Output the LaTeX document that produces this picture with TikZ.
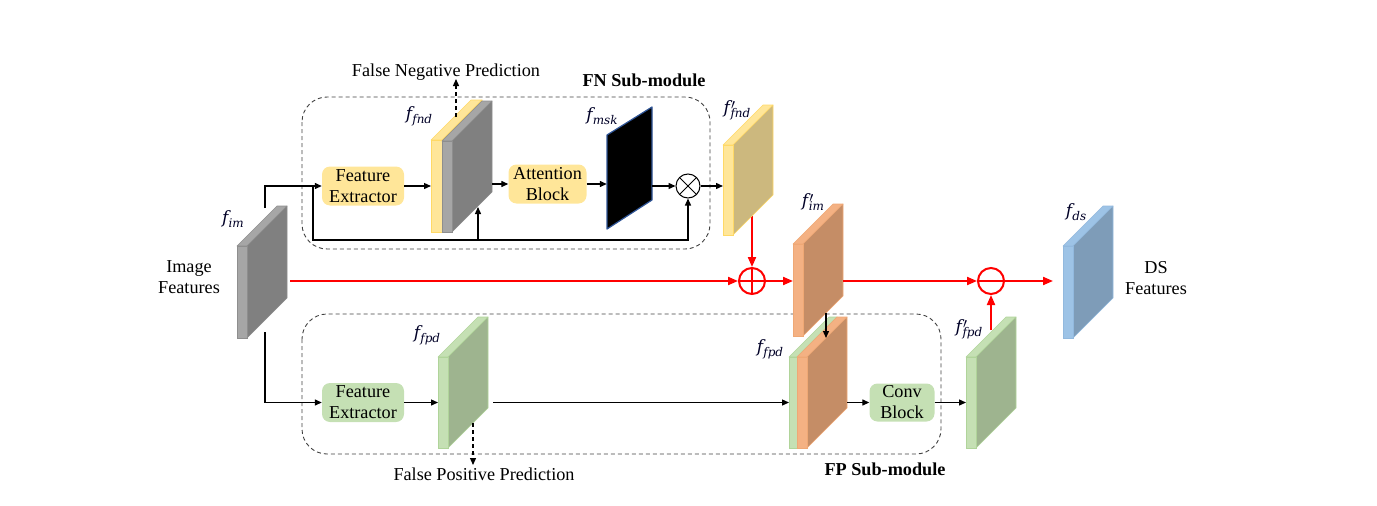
\documentclass[tikz,border=0pt]{standalone}
\usepackage{fontspec}
\setmainfont{Liberation Serif}
\newfontfamily\labfont{DejaVu Serif}
\usetikzlibrary{arrows.meta,calc}
\definecolor{gfront}{HTML}{A6A6A6}
\definecolor{gside}{HTML}{808080}
\definecolor{gedge}{HTML}{8E8E8E}
\definecolor{yfront}{HTML}{FFE699}
\definecolor{yside}{HTML}{CCB87E}
\definecolor{yedge}{HTML}{FFD966}
\definecolor{ofront}{HTML}{F4B183}
\definecolor{oside}{HTML}{C58D66}
\definecolor{oedge}{HTML}{EFA875}
\definecolor{grfront}{HTML}{C5E0B4}
\definecolor{grside}{HTML}{9EB48F}
\definecolor{gredge}{HTML}{B0D49A}
\definecolor{bfront}{HTML}{9DC3E6}
\definecolor{bside}{HTML}{7E9CB8}
\definecolor{bedge}{HTML}{92B9DE}
\definecolor{mskedge}{HTML}{2F5597}
\definecolor{fnred}{HTML}{FF0000}
\definecolor{dashgray}{HTML}{404040}
\newcommand{\featslab}[8]{%
  \filldraw[fill=#6,draw=#8,line width=0.6pt,line join=round] (#2,#3) -- ++(40,-40) -- ++(#4,0) -- ++(-40,40) -- cycle;
  \filldraw[fill=#7,draw=#8,line width=0.6pt,line join=round] (#2+#4,#3) -- ++(40,-40) -- ++(0,#5) -- ++(-40,40) -- cycle;
  \filldraw[fill=#6,draw=#8,line width=0.6pt] (#2,#3) rectangle ++(#4,#5);
  \node[inner sep=0pt,outer sep=0pt,minimum width=#4+40,minimum height=#5+40] (#1) at (#2+#4/2+20,#3+#5/2-20) {};
}
% italic labels: f with subscript, and f with prime and subscript
\newcommand{\flab}[1]{{\labfont\itshape\fontsize{17}{19}\selectfont f}\kern0.2pt\raisebox{-4pt}{\labfont\itshape\fontsize{12}{13}\selectfont #1}}
\newcommand{\fplab}[1]{{\labfont\itshape\fontsize{17}{19}\selectfont f}\kern1.2pt\rlap{\raisebox{3.5pt}{\fontsize{15}{15}\selectfont$\prime$}}\kern-0.6pt\raisebox{-4pt}{\labfont\itshape\fontsize{12}{13}\selectfont #1}}
\begin{document}
\begin{tikzpicture}[x=1pt,y=-1pt,
  box/.style={rounded corners=8pt, minimum height=39pt, inner sep=1pt, align=center, font=\fontsize{18.2}{21}\selectfont},
  arr/.style={-{Triangle[length=7pt,width=6pt]}, line width=1.3pt},
  redarr/.style={-{Triangle[length=10pt,width=8pt]}, line width=2pt, draw=fnred, color=fnred},
  dasharr/.style={arr, dash pattern=on 4pt off 3pt},
  module/.style={draw=dashgray, dash pattern=on 4pt off 3pt, line width=0.9pt, rounded corners=25pt},
  txt/.style={font=\fontsize{18.2}{21.5}\selectfont, align=center},
  boldtxt/.style={font=\fontsize{18.2}{21.5}\selectfont\bfseries, align=center},
  lab/.style={inner sep=0pt, text=black!85!blue},
  redcirc/.style={circle, draw=fnred, line width=2pt, minimum size=26pt, inner sep=0pt}
]
\useasboundingbox (0,0) rectangle (1377,506);

% modules
\draw[module] (302,97) rectangle (710,249);
\draw[module] (302,314) rectangle (941,454);

% operators
\node[circle, draw, line width=1pt, minimum size=24pt, inner sep=0pt,
  path picture={\draw[line width=1pt] (path picture bounding box.north west) -- (path picture bounding box.south east) (path picture bounding box.north east) -- (path picture bounding box.south west);}] (otimes) at (688,186) {};
\node[redcirc, path picture={\draw[fnred,line width=2pt] (path picture bounding box.north) -- (path picture bounding box.south) (path picture bounding box.west) -- (path picture bounding box.east);}] (oplus) at (752,281) {};
\node[redcirc, path picture={\draw[fnred,line width=2pt] (path picture bounding box.west) -- (path picture bounding box.east);}] (ominus) at (991,281) {};

% red lines starting under slabs
\coordinate (fndpout) at (752,216);
\draw[redarr] (fndpout) -- (oplus.north);
\coordinate (fpdpout) at (991,330);
\draw[redarr] (fpdpout) -- (ominus.south);

% slabs
\featslab{fim}{237}{246}{10}{92}{gfront}{gside}{gedge}
\featslab{ffndy}{431}{140}{11}{92}{yfront}{yside}{yedge}
\featslab{ffnd}{442}{141}{10}{91}{gfront}{gside}{gedge}
\filldraw[fill=black, draw=mskedge, line width=1.2pt, line join=round] (607,135) -- (652,107) -- (652,200) -- (607,229) -- cycle;
\node[inner sep=0pt, minimum width=45, minimum height=122] (fmsk) at (629.5,168) {};
\featslab{ffndp}{723}{145}{10}{90}{yfront}{yside}{yedge}
\featslab{fimp}{793}{244}{10}{92}{ofront}{oside}{oedge}
\featslab{ffpd}{438}{357}{10}{91}{grfront}{grside}{gredge}
\featslab{stkg}{789}{357}{8}{91}{grfront}{grside}{gredge}
\featslab{stk}{797}{357}{10}{91}{ofront}{oside}{oedge}
\featslab{ffpdp}{966}{357}{10}{91}{grfront}{grside}{gredge}
\featslab{fds}{1063}{246}{10}{92}{bfront}{bside}{bedge}

% boxes
\node[box, fill=yfront, minimum width=82pt] (feN) at (363,186) {Feature\\Extractor};
\node[box, fill=yfront, minimum width=78pt] (att) at (547.5,184) {Attention\\Block};
\node[box, fill=grfront, minimum width=82pt] (feP) at (363,402.5) {Feature\\Extractor};
\node[box, fill=grfront, minimum width=65pt, minimum height=38pt] (conv) at (902,402.5) {Conv\\Block};

% FN branch
\coordinate (imtop) at (265,208);
\draw[arr] (imtop) |- (feN.west);
\coordinate (lp1) at (313,186);
\coordinate (lp2) at (313,240);
\draw[arr] (lp1) -- (lp2) -| (otimes.south);
\coordinate (br1) at (478,240);
\coordinate (br2) at (478,207);
\draw[arr] (br1) -- (br2);
\draw[arr] (feN.east) -- (feN.east -| ffndy.west);
\draw[arr] (ffnd.east |- att.west) -- (att.west);
\draw[arr] (att.east) -- (att.east -| fmsk.west);
\draw[arr] (fmsk.east |- otimes.west) -- (otimes.west);
\draw[arr] (otimes.east) -- (otimes.east -| ffndp.west);
\coordinate (fnd1) at (456,117);
\coordinate (fnd2) at (456,79);
\draw[dasharr] (fnd1) -- (fnd2);

% main red path
\draw[redarr] ([xshift=3pt]fim.east |- oplus.west) -- (oplus.west);
\draw[redarr] (oplus.east) -- (oplus.east -| fimp.west);
\draw[redarr] (fimp.east |- ominus.west) -- (ominus.west);
\draw[redarr, shorten >=10pt] (ominus.east) -- (ominus.east -| fds.west);

% FP branch
\coordinate (imbot) at (265,332);
\draw[arr] (imbot) |- (feP.west);
\draw[arr] (feP.east) -- (feP.east -| ffpd.west);
\draw[arr] ([xshift=5pt]ffpd.east |- feP.east) -- (feP.east -| stkg.west);
\draw[arr] (stk.east |- conv.west) -- (conv.west);
\draw[arr] (conv.east) -- (conv.east -| ffpdp.west);
\coordinate (fpd1) at (473,423);
\coordinate (fpd2) at (473,465);
\draw[dasharr] (fpd1) -- (fpd2);
\coordinate (imp1) at (826,313);
\coordinate (imp2) at (826,338);
\draw[arr] (imp1) -- (imp2);

% labels
\node[lab] (lfim) at (233,219) {\flab{im}};
\node[lab] (lffnd) at (419,116) {\flab{fnd}};
\node[lab] (lfmsk) at (602,116) {\flab{msk}};
\node[lab] (lffndp) at (737,110) {\fplab{fnd}};
\node[lab] (lfimp) at (813,202) {\fplab{im}};
\node[lab] (lffpd) at (427,335) {\flab{fpd}};
\node[lab] (lstk) at (770,349) {\flab{fpd}};
\node[lab] (lffpdp) at (969,329) {\fplab{fpd}};
\node[lab] (lfds) at (1076,212) {\flab{ds}};

% texts
\node[txt, anchor=base] (fnp) at (446,76) {False Negative Prediction};
\node[boldtxt, anchor=base] (fnt) at (644,86.5) {FN Sub-module};
\node[txt, anchor=base] (fpp) at (484,480) {False Positive Prediction};
\node[boldtxt, anchor=base] (fpt) at (885,475) {FP Sub-module};
\node[txt] (imf) at (189,277) {Image\\Features};
\node[txt] (dsf) at (1156,278) {DS\\Features};
\end{tikzpicture}
\end{document}
